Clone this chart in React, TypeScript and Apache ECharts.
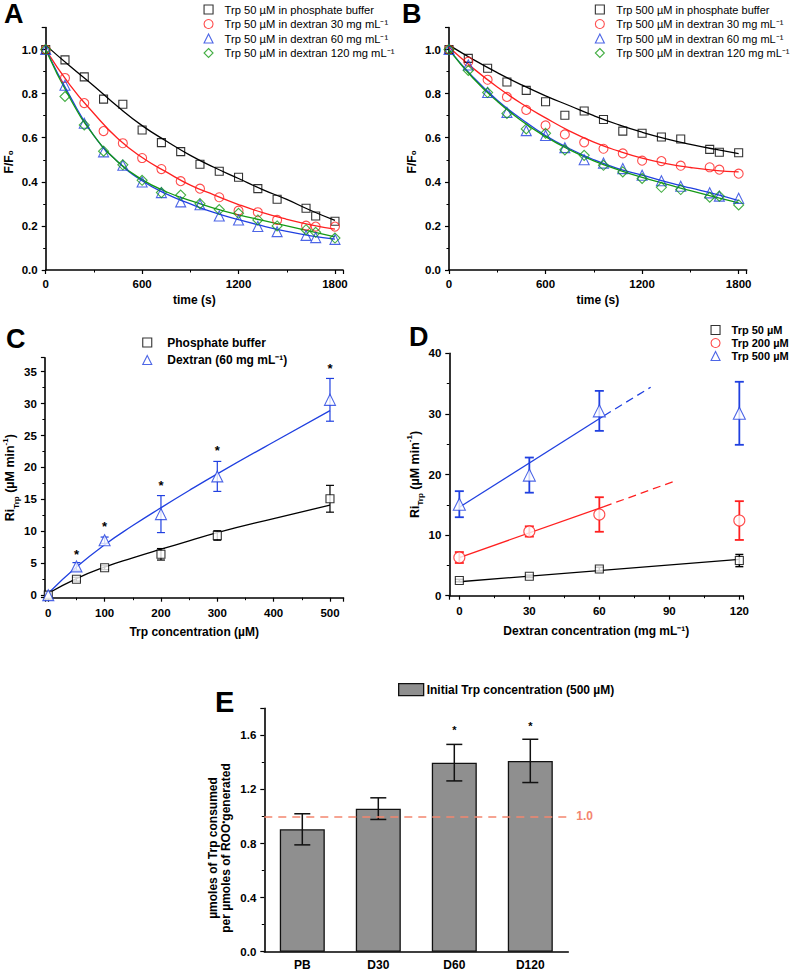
import React, { useEffect, useRef } from 'react';
import * as echarts from 'echarts';

const FONT = '"Liberation Sans", Arial, sans-serif';

// ---------- Panel A (Trp 50 µM) ----------
const tPts = [0, 120, 240, 360, 480, 600, 720, 840, 960, 1080, 1200, 1320, 1440, 1620, 1680, 1800];
const aPB = [1.0, 0.953, 0.876, 0.775, 0.752, 0.635, 0.578, 0.537, 0.48, 0.448, 0.421, 0.369, 0.321, 0.28, 0.245, 0.221];
const aD30 = [1.0, 0.871, 0.757, 0.63, 0.575, 0.508, 0.458, 0.403, 0.369, 0.33, 0.269, 0.262, 0.227, 0.201, 0.197, 0.197];
const aD60 = [1.0, 0.838, 0.666, 0.536, 0.475, 0.399, 0.351, 0.309, 0.296, 0.245, 0.227, 0.197, 0.174, 0.157, 0.147, 0.139];
const aD120 = [1.0, 0.787, 0.658, 0.539, 0.477, 0.407, 0.351, 0.34, 0.301, 0.274, 0.257, 0.227, 0.2, 0.183, 0.171, 0.145];

const tFit = [0, 150, 300, 450, 600, 750, 900, 1050, 1200, 1350, 1500, 1650, 1800];
const aFitPB = [1.02, 0.925, 0.835, 0.74, 0.655, 0.585, 0.52, 0.465, 0.415, 0.365, 0.32, 0.27, 0.225];
const aFitD30 = [1.0, 0.84, 0.71, 0.595, 0.51, 0.445, 0.385, 0.34, 0.297, 0.26, 0.23, 0.205, 0.185];
const aFitD60 = [1.0, 0.79, 0.61, 0.49, 0.405, 0.345, 0.3, 0.26, 0.228, 0.2, 0.175, 0.155, 0.14];
const aFitD120 = [1.0, 0.78, 0.61, 0.49, 0.41, 0.355, 0.315, 0.28, 0.25, 0.225, 0.2, 0.175, 0.15];

// ---------- Panel B (Trp 500 µM) ----------
const bPB = [1.0, 0.96, 0.915, 0.853, 0.815, 0.763, 0.702, 0.721, 0.683, 0.63, 0.62, 0.603, 0.594, 0.547, 0.534, 0.532];
const bD30 = [1.0, 0.945, 0.863, 0.785, 0.726, 0.656, 0.615, 0.579, 0.55, 0.529, 0.496, 0.494, 0.473, 0.466, 0.455, 0.437];
const bD60 = [1.0, 0.93, 0.805, 0.715, 0.632, 0.61, 0.555, 0.5, 0.485, 0.46, 0.43, 0.405, 0.38, 0.35, 0.335, 0.325];
const bD120 = [1.0, 0.905, 0.805, 0.71, 0.64, 0.62, 0.545, 0.52, 0.475, 0.445, 0.415, 0.375, 0.365, 0.33, 0.335, 0.295];
const bFitPB = [1.02, 0.955, 0.895, 0.84, 0.79, 0.745, 0.7, 0.66, 0.625, 0.595, 0.57, 0.548, 0.528];
const bFitD30 = [1.01, 0.915, 0.83, 0.755, 0.69, 0.63, 0.58, 0.54, 0.507, 0.483, 0.465, 0.452, 0.445];
const bFitD60 = [1.0, 0.875, 0.77, 0.685, 0.61, 0.55, 0.5, 0.46, 0.43, 0.4, 0.372, 0.345, 0.315];
const bFitD120 = [1.0, 0.87, 0.765, 0.677, 0.605, 0.545, 0.495, 0.455, 0.42, 0.39, 0.36, 0.332, 0.305];

// ---------- Panel C ----------
const cConc = [0, 50, 100, 200, 300, 500];
const cPB = [0, 2.5, 4.3, 6.4, 9.35, 15.1];
const cPBerr = [0, 0.3, 0.3, 0.9, 0.75, 2.1];
const cDex = [0, 4.5, 8.6, 12.7, 18.6, 30.6];
const cDexErr = [0, 0.6, 0.5, 2.9, 2.35, 3.35];
const cFitX = [0, 50, 100, 150, 200, 250, 300, 400, 500];
const cFitPB = [0.3, 2.6, 4.4, 5.85, 7.2, 8.5, 9.8, 12.0, 14.1];
const cFitDex = [0.3, 4.4, 7.9, 10.9, 13.7, 16.4, 19.0, 24.0, 28.9];
const cStarX = [50, 100, 200, 300, 500];
const cStarY = [6.9, 11.2, 17.7, 23.1, 36.0];

// ---------- Panel D ----------
const dConc = [0, 30, 60, 120];
const d50 = [2.5, 3.2, 4.4, 5.8];
const d50err = [0.2, 0.2, 0.3, 1.0];
const d200 = [6.3, 10.6, 13.4, 12.4];
const d200err = [0.9, 0.85, 2.85, 3.2];
const d500 = [15.1, 19.9, 30.5, 30.1];
const d500err = [2.15, 2.9, 3.3, 5.2];
const dFit50 = [[0, 2.3], [120, 6.0]];
const dFit200 = [[0, 6.3], [62, 14.7]];
const dFit200ext = [[62, 14.7], [91.5, 18.8]];
const dFit500 = [[0, 14.6], [62, 29.7]];
const dFit500ext = [[62, 29.7], [82, 34.4]];

// ---------- Panel E ----------
const eCats = ['PB', 'D30', 'D60', 'D120'];
const eVals = [0.905, 1.058, 1.398, 1.411];
const eErr = [0.115, 0.08, 0.135, 0.16];
const eStarIdx = [2, 3];
const eStarY = [1.66, 1.69];

const BLACK = '#000000';
const RED = '#ff2020';
const BLUE = '#2040e0';
const GREEN = '#159a15';
const SALMON = '#f3866f';

const pairs = (xs: number[], ys: number[]) => xs.map((x, i) => [x, ys[i]]);

const axisBase = (extra: any = {}) => ({
  type: 'value',
  axisLine: { show: true, onZero: false, lineStyle: { color: '#000', width: 1.6 } },
  axisTick: { show: true, length: 4, lineStyle: { color: '#000', width: 1.2 } },
  minorTick: { show: true, splitNumber: 2, length: 2.5, lineStyle: { color: '#000', width: 1 } },
  splitLine: { show: false },
  axisLabel: { color: '#000', fontWeight: 'bold', fontSize: 11.5, fontFamily: FONT, margin: 7 },
  nameLocation: 'middle',
  nameTextStyle: { color: '#000', fontWeight: 'bold', fontSize: 12, fontFamily: FONT },
  ...extra,
});

const hollow = (color: string, fill = 'rgba(255,255,255,0)') => ({ color: fill, borderColor: color, borderWidth: 1.1 });

const scatter = (name: string, idx: number, data: number[][], symbol: string, size: number, color: string, fill?: string) => ({
  type: 'scatter', name, xAxisIndex: idx, yAxisIndex: idx, data, symbol, symbolSize: size,
  itemStyle: hollow(color, fill), z: 4, silent: true,
});

const line = (name: string, idx: number, data: number[][], color: string, smooth: boolean, dashed = false, width = 1.3) => ({
  type: 'line', name, xAxisIndex: idx, yAxisIndex: idx, data, smooth, showSymbol: false, symbol: 'none',
  lineStyle: { color, width, type: dashed ? [8, 5] : 'solid' }, z: 3, silent: true,
});

const errBar = (name: string, idx: number, xs: number[], ys: number[], errs: number[], color: string, cap: number, lw: number, z = 2) => ({
  type: 'custom', name, xAxisIndex: idx, yAxisIndex: idx, silent: true, z,
  data: xs.map((x, i) => [x, ys[i] - errs[i], ys[i] + errs[i]]).filter((d, i) => errs[i] > 0),
  encode: { x: 0, y: [1, 2] },
  renderItem: (_p: any, api: any) => {
    const x = api.value(0);
    const a = api.coord([x, api.value(2)]);
    const b = api.coord([x, api.value(1)]);
    const st = { stroke: color, lineWidth: lw };
    return {
      type: 'group',
      children: [
        { type: 'line', shape: { x1: a[0], y1: a[1], x2: b[0], y2: b[1] }, style: st },
        { type: 'line', shape: { x1: a[0] - cap / 2, y1: a[1], x2: a[0] + cap / 2, y2: a[1] }, style: st },
        { type: 'line', shape: { x1: b[0] - cap / 2, y1: b[1], x2: b[0] + cap / 2, y2: b[1] }, style: st },
      ],
    };
  },
});

const stars = (name: string, idx: number, xs: number[], ys: number[], size: number) => ({
  type: 'custom', name, xAxisIndex: idx, yAxisIndex: idx, silent: true, z: 5,
  data: xs.map((x, i) => [x, ys[i]]),
  encode: { x: 0, y: 1 },
  renderItem: (_p: any, api: any) => {
    const c = api.coord([api.value(0), api.value(1)]);
    return {
      type: 'text', x: c[0], y: c[1] + size * 0.25,
      style: { text: '*', fill: '#000', fontSize: size, fontWeight: 'bold', fontFamily: FONT, align: 'center', verticalAlign: 'middle' },
    };
  },
});

const legItem = (name: string, icon: string, color: string) => ({
  name, icon, itemStyle: { color: 'rgba(255,255,255,0)', borderColor: color, borderWidth: 1.1 },
});

const fmt1 = (v: number) => (Math.abs(Math.round(v * 10) % 2) === 0 ? v.toFixed(1) : '');

const A1 = 'Trp 50 µM in phosphate buffer';
const A2 = 'Trp 50 µM in dextran 30 mg mL⁻¹';
const A3 = 'Trp 50 µM in dextran 60 mg mL⁻¹';
const A4 = 'Trp 50 µM in dextran 120 mg mL⁻¹';
const B1 = 'Trp 500 µM in phosphate buffer';
const B2 = 'Trp 500 µM in dextran 30 mg mL⁻¹';
const B3 = 'Trp 500 µM in dextran 60 mg mL⁻¹';
const B4 = 'Trp 500 µM in dextran 120 mg mL⁻¹';
const C1 = 'Phosphate buffer';
const C2 = 'Dextran (60 mg mL⁻¹)';
const D1 = 'Trp 50 µM';
const D2 = 'Trp 200 µM';
const D3 = 'Trp 500 µM';
const E1 = 'Initial Trp concentration (500 µM)';

const riName = '{a|Ri}{s|Trp}{a| (µM min}{p|-1}{a|)}';
const riRich = {
  a: { fontSize: 12.5, fontWeight: 'bold', fontFamily: FONT, color: '#000', lineHeight: 16 },
  s: { fontSize: 8, fontWeight: 'bold', fontFamily: FONT, color: '#000', verticalAlign: 'bottom', lineHeight: 8, padding: [0, 0, -2, 0] },
  p: { fontSize: 8, fontWeight: 'bold', fontFamily: FONT, color: '#000', verticalAlign: 'top', lineHeight: 8, padding: [-1, 0, 0, 0] },
};

function buildOption(): any {
  const letter = (t: string, x: number, y: number, size = 27) => ({
    type: 'text', x, y, silent: true,
    style: { text: t, fontSize: size, fontWeight: 'bold', fontFamily: FONT, fill: '#000' },
  });

  const legBase = { orient: 'vertical', itemWidth: 9, itemHeight: 9, selectedMode: false };

  return {
    animation: false,
    backgroundColor: '#ffffff',
    grid: [
      { left: 45.7, top: 27.5, width: 297.3, height: 242.5 },
      { left: 449, top: 27.5, width: 297.7, height: 242.5 },
      { left: 44.9, top: 357.7, width: 298.6, height: 240 },
      { left: 449.3, top: 353.3, width: 294, height: 242.4 },
      { left: 264.3, top: 708.3, width: 304, height: 243.4 },
    ],
    xAxis: [
      axisBase({ gridIndex: 0, min: 0, max: 1850, interval: 600, name: 'time (s)', nameGap: 24,
        axisLabel: { color: '#000', fontWeight: 'bold', fontSize: 11.5, fontFamily: FONT, margin: 8, formatter: (v: number) => (v % 600 === 0 ? String(v) : '') } }),
      axisBase({ gridIndex: 1, min: 0, max: 1850, interval: 600, name: 'time (s)', nameGap: 24,
        axisLabel: { color: '#000', fontWeight: 'bold', fontSize: 11.5, fontFamily: FONT, margin: 8, formatter: (v: number) => (v % 600 === 0 ? String(v) : '') } }),
      axisBase({ gridIndex: 2, min: -6, max: 524, splitNumber: 5, name: 'Trp concentration (µM)', nameGap: 28,
        axisLabel: { color: '#000', fontWeight: 'bold', fontSize: 11.5, fontFamily: FONT, margin: 9, formatter: (v: number) => (v % 100 === 0 ? String(v) : '') } }),
      axisBase({ gridIndex: 3, min: -4.3, max: 121.7, splitNumber: 4, name: 'Dextran concentration (mg mL⁻¹)', nameGap: 29,
        axisLabel: { color: '#000', fontWeight: 'bold', fontSize: 11.5, fontFamily: FONT, margin: 9, formatter: (v: number) => (v % 30 === 0 ? String(v) : '') } }),
      {
        type: 'category', gridIndex: 4, data: eCats,
        axisLine: { show: true, onZero: false, lineStyle: { color: '#000', width: 1.6 } },
        axisTick: { show: false },
        axisLabel: { color: '#000', fontWeight: 'bold', fontSize: 12, fontFamily: FONT, margin: 7 },
        splitLine: { show: false },
      },
    ],
    yAxis: [
      axisBase({ gridIndex: 0, min: 0, max: 1.1, interval: 0.2, name: 'F/F₀', nameGap: 31,
        nameTextStyle: { color: '#000', fontWeight: 'bold', fontSize: 12, fontFamily: FONT, padding: [0, 0, 0, -26] },
        axisLabel: { color: '#000', fontWeight: 'bold', fontSize: 11.5, fontFamily: FONT, margin: 8, formatter: fmt1 } }),
      axisBase({ gridIndex: 1, min: 0, max: 1.1, interval: 0.2, name: 'F/F₀', nameGap: 31,
        nameTextStyle: { color: '#000', fontWeight: 'bold', fontSize: 12, fontFamily: FONT, padding: [0, 0, 0, -26] },
        axisLabel: { color: '#000', fontWeight: 'bold', fontSize: 11.5, fontFamily: FONT, margin: 8, formatter: fmt1 } }),
      axisBase({ gridIndex: 2, min: -0.4, max: 37.2, splitNumber: 8, name: riName, nameGap: 26,
        nameTextStyle: { rich: riRich },
        axisLabel: { color: '#000', fontWeight: 'bold', fontSize: 11.5, fontFamily: FONT, margin: 8, formatter: (v: number) => (v % 5 === 0 ? String(v) : '') } }),
      axisBase({ gridIndex: 3, min: 0, max: 40, interval: 10, name: riName, nameGap: 26,
        nameTextStyle: { rich: riRich },
        axisLabel: { color: '#000', fontWeight: 'bold', fontSize: 11.5, fontFamily: FONT, margin: 8 } }),
      axisBase({ gridIndex: 4, min: 0, max: 1.8, interval: 0.4, nameGap: 32,
        name: '{a|µmoles of Trp consumed}\n{a|per µmoles of ROO}{s|•}{a|generated}',
        nameTextStyle: {
          padding: [0, 0, 0, -36],
          rich: {
            a: { fontSize: 12, fontWeight: 'bold', fontFamily: FONT, color: '#000', lineHeight: 13 },
            s: { fontSize: 9, fontWeight: 'bold', fontFamily: FONT, color: '#000', verticalAlign: 'top', lineHeight: 9 },
          },
        },
        axisLabel: { color: '#000', fontWeight: 'bold', fontSize: 11.5, fontFamily: FONT, margin: 8,
          formatter: (v: number) => (v > 1.7 ? '' : v.toFixed(1)) } }),
    ],
    legend: [
      {
        ...legBase, left: 198.5, top: -1, itemGap: 3.5,
        textStyle: { fontSize: 11.2, fontFamily: FONT, color: '#000', padding: [0, 0, 0, 6.5] },
        data: [legItem(A1, 'rect', BLACK), legItem(A2, 'circle', RED), legItem(A3, 'triangle', BLUE), legItem(A4, 'diamond', GREEN)],
      },
      {
        ...legBase, left: 589.8, top: -1, itemGap: 3.5,
        textStyle: { fontSize: 11, fontFamily: FONT, color: '#000', padding: [0, 0, 0, 7] },
        data: [legItem(B1, 'rect', BLACK), legItem(B2, 'circle', RED), legItem(B3, 'triangle', BLUE), legItem(B4, 'diamond', GREEN)],
      },
      {
        ...legBase, left: 137.2, top: 331.5, itemGap: 5.5,
        textStyle: { fontSize: 12, fontWeight: 'bold', fontFamily: FONT, color: '#000', padding: [0, 0, 0, 10.5] },
        data: [legItem(C1, 'rect', BLACK), legItem(C2, 'triangle', BLUE)],
      },
      {
        ...legBase, left: 705.5, top: 319.5, itemGap: 2,
        textStyle: { fontSize: 11, fontWeight: 'bold', fontFamily: FONT, color: '#000', padding: [0, 0, 0, 6.5] },
        data: [legItem(D1, 'rect', BLACK), legItem(D2, 'circle', RED), legItem(D3, 'triangle', BLUE)],
      },
      {
        orient: 'vertical', selectedMode: false, left: 393, top: 678, itemWidth: 25, itemHeight: 12,
        textStyle: { fontSize: 12, fontWeight: 'bold', fontFamily: FONT, color: '#000', padding: [0, 0, 0, -2] },
        data: [{ name: E1, icon: 'rect', itemStyle: { color: '#8f8f8f', borderColor: '#111', borderWidth: 1.3 } }],
      },
    ],
    graphic: [
      letter('A', 4, 0),
      letter('B', 402, 0),
      letter('C', 6, 325),
      letter('D', 409, 323),
      letter('E', 215, 687, 29),
    ],
    series: [
      // A
      line('fitA1', 0, pairs(tFit, aFitPB), BLACK, true),
      line('fitA2', 0, pairs(tFit, aFitD30), RED, true),
      line('fitA3', 0, pairs(tFit, aFitD60), BLUE, true),
      line('fitA4', 0, pairs(tFit, aFitD120), GREEN, true),
      scatter(A1, 0, pairs(tPts, aPB), 'rect', 8, BLACK),
      scatter(A2, 0, pairs(tPts, aD30), 'circle', 9, RED),
      scatter(A3, 0, pairs(tPts, aD60), 'triangle', 10, BLUE),
      scatter(A4, 0, pairs(tPts, aD120), 'diamond', 10, GREEN),
      // B
      line('fitB1', 1, pairs(tFit, bFitPB), BLACK, true),
      line('fitB2', 1, pairs(tFit, bFitD30), RED, true),
      line('fitB3', 1, pairs(tFit, bFitD60), BLUE, true),
      line('fitB4', 1, pairs(tFit, bFitD120), GREEN, true),
      scatter(B1, 1, pairs(tPts, bPB), 'rect', 8, BLACK),
      scatter(B2, 1, pairs(tPts, bD30), 'circle', 9, RED),
      scatter(B3, 1, pairs(tPts, bD60), 'triangle', 10, BLUE),
      scatter(B4, 1, pairs(tPts, bD120), 'diamond', 10, GREEN),
      // C
      line('fitC1', 2, pairs(cFitX, cFitPB), BLACK, true),
      line('fitC2', 2, pairs(cFitX, cFitDex), BLUE, true),
      errBar('errC1', 2, cConc, cPB, cPBerr, BLACK, 8, 1.2),
      errBar('errC2', 2, cConc, cDex, cDexErr, BLUE, 8, 1.2),
      scatter(C1, 2, pairs(cConc, cPB), 'rect', 8, BLACK, '#ffffff'),
      scatter(C2, 2, pairs(cConc, cDex), 'triangle', 11, BLUE, '#ffffff'),
      stars('starsC', 2, cStarX, cStarY, 13),
      // D
      line('fitD1', 3, dFit50, BLACK, false),
      line('fitD2', 3, dFit200, RED, false),
      line('fitD2e', 3, dFit200ext, RED, false, true),
      line('fitD3', 3, dFit500, BLUE, false),
      line('fitD3e', 3, dFit500ext, BLUE, false, true),
      errBar('errD1', 3, dConc, d50, d50err, BLACK, 8, 1.5),
      errBar('errD2', 3, dConc, d200, d200err, RED, 9, 1.8),
      errBar('errD3', 3, dConc, d500, d500err, BLUE, 9, 1.8),
      scatter(D1, 3, pairs(dConc, d50), 'rect', 8, BLACK, '#ffffff'),
      scatter(D2, 3, pairs(dConc, d200), 'circle', 11, RED, '#ffffff'),
      scatter(D3, 3, pairs(dConc, d500), 'triangle', 12, BLUE, '#ffffff'),
      // E
      {
        type: 'bar', name: E1, xAxisIndex: 4, yAxisIndex: 4, data: eVals, barWidth: 45, silent: true,
        itemStyle: { color: '#8f8f8f', borderColor: '#111', borderWidth: 1.3 },
        markLine: {
          silent: true, symbol: 'none', data: [{ yAxis: 1.0 }], z: 6,
          lineStyle: { color: SALMON, type: [8, 6], width: 1.5 },
          label: { show: true, position: 'end', formatter: '1.0', color: SALMON, fontSize: 12, fontWeight: 'bold', fontFamily: FONT, distance: 8 },
        },
        z: 2,
      },
      errBar('errE', 4, [0, 1, 2, 3], eVals, eErr, '#111', 16, 1.5, 5),
      stars('starsE', 4, eStarIdx, eStarY, 11),
    ],
  };
}

export default function App() {
  const ref = useRef<HTMLDivElement | null>(null);
  useEffect(() => {
    if (!ref.current) return;
    const chart = echarts.init(ref.current, undefined, { renderer: 'svg' });
    chart.setOption(buildOption());
    return () => chart.dispose();
  }, []);
  return (
    <div
      ref={ref}
      style={{ position: 'fixed', left: 0, top: 0, width: 797, height: 974, background: '#fff' }}
    />
  );
}
